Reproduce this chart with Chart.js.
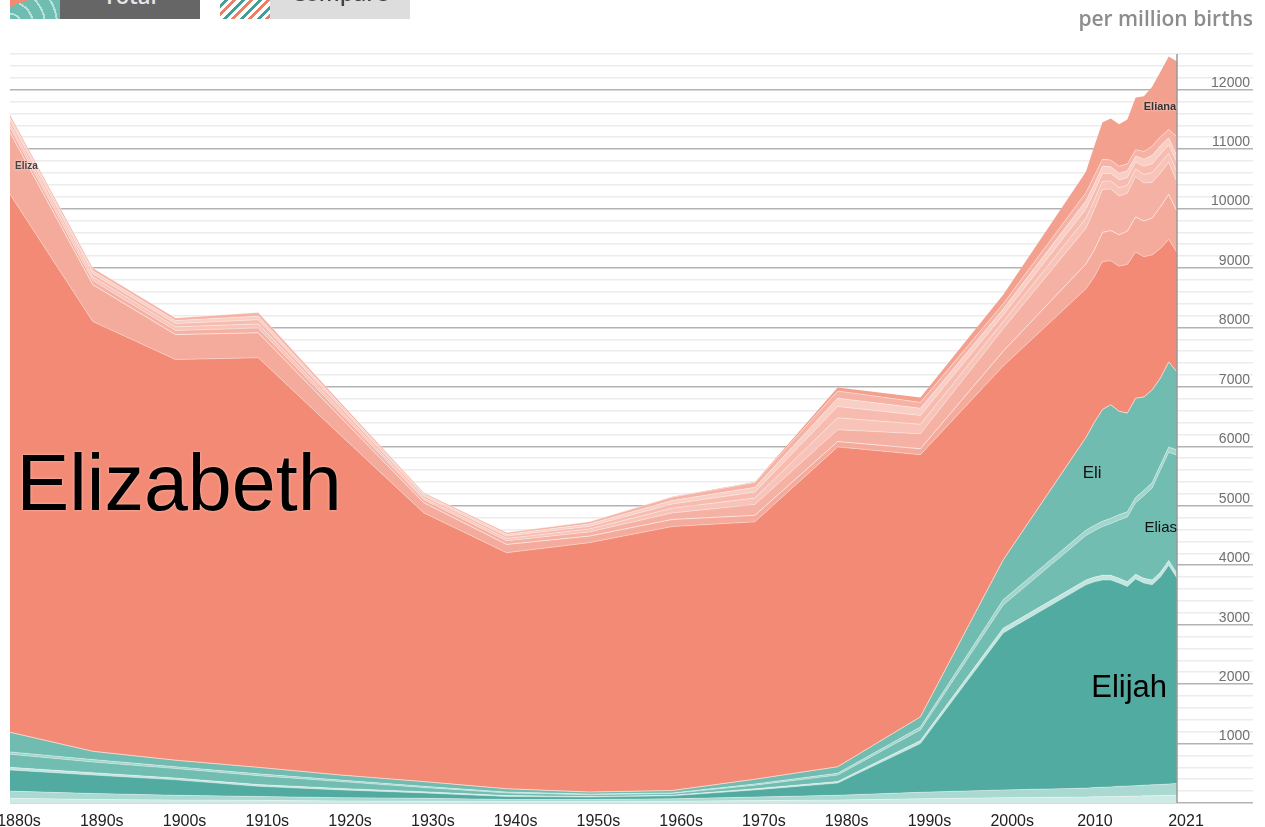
<!DOCTYPE html>
<html>
<head>
<meta charset="utf-8">
<title>Eli names per million births</title>
<script src="https://cdn.jsdelivr.net/npm/chart.js@4.4.1/dist/chart.umd.min.js"></script>
<style>
  html, body { margin: 0; padding: 0; background: #fff; overflow: hidden; }
  #wrap { position: relative; width: 1265px; height: 827px; }
  #chart { position: absolute; left: 0; top: 0; }

  .btn { position: absolute; top: 0; height: 19px; overflow: hidden; font: 600 22px 'Open Sans', sans-serif; }
  .btn span { position: absolute; left: 0; right: 0; text-align: center; line-height: 22px; }
  .btn-total { left: 60px; width: 140px; background: #666; color: #e6e6e6; }
  .btn-total span { top: -16px; }
  .btn-compare { left: 270px; width: 140px; background: #ddd; color: #444; }
  .btn-compare span { top: -19px; }

  .icon { position: absolute; top: 0; width: 50px; height: 19px; }
  .icon-total {
    left: 10px;
    background:
      linear-gradient(160deg, #f28a74 0 18%, transparent 18%),
      repeating-radial-gradient(circle at 0 130%, #6fbcb1 0 10px, #b7e2db 10px 12px);
  }
  .icon-compare {
    left: 220px;
    background: repeating-linear-gradient(135deg, #fff 0 3px, #3fa093 3px 6px, #fff 6px 9px, #f07d66 9px 12px);
  }

  .unit {
    position: absolute; right: 12px; top: 8px;
    font: 600 21px 'Open Sans', sans-serif; color: #8c8c8c; line-height: 21px;
  }
</style>
</head>
<body>
<div id="wrap">
  <canvas id="chart" width="1265" height="827"></canvas>
  <div class="icon icon-total"></div>
  <div class="btn btn-total"><span>Total</span></div>
  <div class="icon icon-compare"></div>
  <div class="btn btn-compare"><span>Compare</span></div>
  <div class="unit">per million births</div>
</div>

<script>
// decades up to the 2000s, then single years
const years = [1880, 1890, 1900, 1910, 1920, 1930, 1940, 1950, 1960, 1970, 1980, 1990, 2000,
  2010, 2011, 2012, 2013, 2014, 2015, 2016, 2017, 2018, 2019, 2020, 2021];

const xTickYears = [1880, 1890, 1900, 1910, 1920, 1930, 1940, 1950, 1960, 1970, 1980, 1990, 2000, 2010, 2021];
const xTickLabels = ['1880s', '1890s', '1900s', '1910s', '1920s', '1930s', '1940s', '1950s', '1960s',
  '1970s', '1980s', '1990s', '2000s', '2010', '2021'];

// per million births, listed bottom of the stack first
// boys
const eliseo = [80, 60, 50, 45, 35, 30, 25, 25, 30, 40, 50, 70, 90, 100, 105, 105, 110, 110, 115, 115, 120, 120, 125, 130, 130];
const elisha = [120, 100, 80, 65, 55, 50, 35, 35, 40, 60, 80, 110, 130, 150, 155, 160, 160, 170, 170, 175, 180, 185, 185, 190, 200];
const elijah = [355, 310, 260, 170, 130, 90, 50, 40, 50, 120, 205, 820, 2640, 3420, 3460, 3485, 3480, 3420, 3355, 3480, 3400, 3365, 3490, 3680, 3450];
const eliot = [45, 40, 30, 30, 25, 20, 15, 10, 10, 20, 25, 50, 80, 80, 80, 80, 80, 80, 80, 80, 80, 80, 80, 80, 80];
const elias = [220, 180, 160, 150, 115, 70, 45, 30, 30, 60, 110, 180, 390, 750, 780, 820, 870, 980, 1090, 1200, 1390, 1550, 1720, 1820, 1990];
const elian = [40, 40, 30, 30, 25, 20, 15, 10, 10, 20, 30, 50, 90, 90, 90, 90, 90, 90, 90, 90, 90, 90, 90, 90, 90];
const eli = [330, 140, 110, 110, 85, 80, 55, 35, 40, 80, 110, 170, 670, 1560, 1730, 1880, 1910, 1740, 1660, 1670, 1570, 1560, 1460, 1430, 1310];
// girls
const elizabeth = [9050, 7230, 6740, 6890, 5710, 4520, 3970, 4195, 4440, 4330, 5380, 4410, 3260, 2500, 2450, 2490, 2420, 2440, 2500, 2460, 2360, 2270, 2180, 2060, 2010];
const eliza = [1040, 620, 420, 420, 300, 170, 140, 110, 120, 110, 90, 100, 250, 420, 450, 490, 510, 530, 560, 590, 600, 620, 700, 760, 690];
const elise = [80, 70, 70, 80, 70, 50, 60, 70, 110, 180, 200, 250, 380, 600, 680, 720, 700, 650, 640, 680, 640, 600, 570, 540, 490];
const elisa = [60, 60, 60, 70, 50, 30, 40, 50, 80, 110, 200, 160, 120, 170, 160, 140, 135, 140, 135, 125, 145, 165, 165, 150, 180];
const elisabeth = [60, 55, 55, 70, 50, 35, 40, 45, 70, 100, 190, 150, 110, 150, 140, 130, 125, 130, 125, 115, 135, 150, 150, 140, 150];
const eliora = [50, 50, 50, 60, 40, 30, 30, 40, 60, 80, 140, 120, 100, 140, 130, 120, 115, 115, 115, 105, 120, 140, 140, 120, 110];
const elissa = [50, 45, 45, 60, 40, 25, 30, 35, 55, 80, 120, 100, 90, 140, 140, 120, 110, 115, 115, 105, 130, 155, 155, 140, 330];
const eliana = [0, 0, 0, 0, 0, 0, 0, 0, 5, 10, 60, 80, 150, 350, 500, 620, 700, 710, 750, 880, 930, 1000, 1090, 1230, 1265];

const FONT = "'Liberation Sans', Arial, Helvetica, sans-serif";
const SEP = 'rgba(255, 255, 255, 0.35)';

const layers = [
  { label: 'Eliseo', values: eliseo, color: '#cdeae5', line: SEP },
  { label: 'Elisha', values: elisha, color: '#a9d9d1', line: SEP },
  { label: 'Elijah', values: elijah, color: '#52aba0', line: SEP },
  { label: 'Eliot', values: eliot, color: '#c2e5df', line: SEP },
  { label: 'Elias', values: elias, color: '#72bdb2', line: SEP },
  { label: 'Elian', values: elian, color: '#a2d5cc', line: SEP },
  { label: 'Eli', values: eli, color: '#70bcb1', line: '#f8d3c9' },
  { label: 'Elizabeth', values: elizabeth, color: '#f28a75', line: SEP },
  { label: 'Eliza', values: eliza, color: '#f5ab9c', line: 'rgba(255, 255, 255, 0.55)' },
  { label: 'Elise', values: elise, color: '#f5b1a3', line: SEP },
  { label: 'Elisa', values: elisa, color: '#f8c4b9', line: SEP },
  { label: 'Elisabeth', values: elisabeth, color: '#f7bcaf', line: SEP },
  { label: 'Eliora', values: eliora, color: '#f9cec5', line: SEP },
  { label: 'Elissa', values: elissa, color: '#f6b3a5', line: SEP },
  { label: 'Eliana', values: eliana, color: '#f3a08e', line: 'rgba(0, 0, 0, 0)' },
];

// Name labels, placed in data space and drawn over the areas
const nameLabels = {
  id: 'nameLabels',
  afterDatasetsDraw(chart) {
    const { ctx, chartArea, scales: { x, y } } = chart;

    // axis line on the right, above the fills
    ctx.save();
    ctx.strokeStyle = '#999';
    ctx.lineWidth = 1.5;
    ctx.beginPath();
    ctx.moveTo(chartArea.right, chartArea.top);
    ctx.lineTo(chartArea.right, chartArea.bottom);
    ctx.stroke();
    ctx.restore();

    const put = (text, year, value, font, align, color, glow) => {
      ctx.save();
      ctx.font = font;
      ctx.textAlign = align;
      ctx.textBaseline = 'alphabetic';
      if (glow) {
        ctx.shadowColor = glow;
        ctx.shadowBlur = 3;
      }
      ctx.fillStyle = color;
      ctx.fillText(text, x.getPixelForValue(year), y.getPixelForValue(value));
      ctx.restore();
    };

    put('Elizabeth', 1880.8, 4930, `79px ${FONT}`, 'left', '#000', 'rgba(255,255,255,0.5)');
    put('Elijah', 2019.8, 1785, `31px ${FONT}`, 'right', '#000', null);
    put('Eli', 2009.6, 5460, `17px ${FONT}`, 'left', '#111', null);
    put('Elias', 2021, 4560, `15px ${FONT}`, 'right', '#111', null);
    put('Eliana', 2020.9, 11650, `bold 11px ${FONT}`, 'right', '#333', 'rgba(255,255,255,0.7)');
    put('Eliza', 1880.6, 10670, `bold 10px ${FONT}`, 'left', '#444', 'rgba(255,255,255,0.8)');
  },
};

function initChart() {
  Chart.defaults.font.family = FONT;

  const datasets = layers.map((layer, i) => ({
    label: layer.label,
    data: layer.values.map((v, j) => ({ x: years[j], y: v })),
    backgroundColor: layer.color,
    borderColor: layer.line,
    borderWidth: 1,
    fill: i === 0 ? 'origin' : '-1',
    pointRadius: 0,
    tension: 0,
  }));

  const isMajor = (c) => c.tick && c.tick.value % 1000 === 0;

  new Chart(document.getElementById('chart'), {
    type: 'line',
    data: { datasets },
    options: {
      responsive: false,
      animation: false,
      // right padding puts the value labels' right edge under the unit caption
      layout: { padding: { left: 10, top: 54, right: 15, bottom: 0 } },
      plugins: { legend: { display: false }, tooltip: { enabled: false } },
      scales: {
        x: {
          type: 'linear',
          min: 1880,
          max: 2021,
          afterBuildTicks: (s) => { s.ticks = xTickYears.map((v) => ({ value: v })); },
          afterFit: (s) => { s.height = 24; s.paddingLeft = 0; s.paddingRight = 0; },
          grid: { display: false },
          border: { display: false },
          ticks: {
            autoSkip: false,
            maxRotation: 0,
            padding: 1,
            labelOffset: 9,
            color: '#222',
            font: { size: 16 },
            callback: (v, i) => xTickLabels[i],
          },
        },
        y: {
          position: 'right',
          stacked: true,
          min: 0,
          max: 12600,
          afterFit: (s) => { s.width = 73; s.paddingTop = 0; s.paddingBottom = 0; },
          grid: {
            color: (c) => (isMajor(c) ? '#b3b3b3' : '#ececec'),
            lineWidth: 1.5,
            tickLength: 76,
          },
          border: { display: false },
          ticks: {
            stepSize: 200,
            autoSkip: false,
            crossAlign: 'far',
            labelOffset: -7,
            color: '#707070',
            font: { size: 14 },
            callback: (v) => (v > 0 && v % 1000 === 0 ? String(v) : ''),
          },
        },
      },
    },
    plugins: [nameLabels],
  });
}

document.addEventListener('DOMContentLoaded', initChart);
</script>
</body>
</html>
